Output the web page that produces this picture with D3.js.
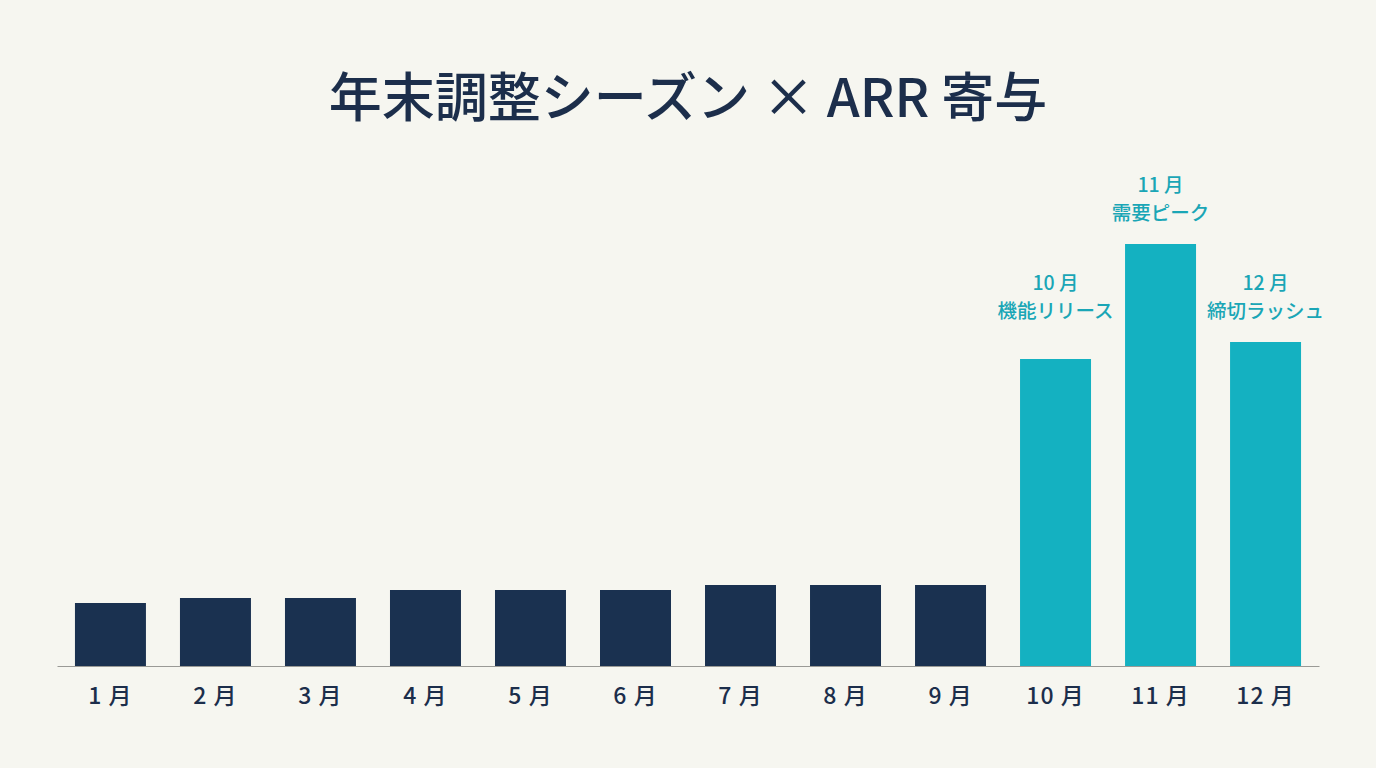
<!DOCTYPE html>
<html>
<head>
<meta charset="utf-8">
<script src="https://cdn.jsdelivr.net/npm/d3@7"></script>
<style>
  html, body { margin: 0; padding: 0; background: #f6f6f0; }
  svg { display: block; }
  text { font-family: "Noto Sans CJK JP", "Noto Sans", sans-serif; }
</style>
</head>
<body>
<script>
// monthly ARR contribution (relative units)
const months = ["1 月", "2 月", "3 月", "4 月", "5 月", "6 月", "7 月", "8 月", "9 月", "10 月", "11 月", "12 月"];
const values = [6.3, 6.8, 6.8, 7.6, 7.6, 7.6, 8.1, 8.1, 8.1, 30.7, 42.2, 32.4];
const highlight = ["10 月", "11 月", "12 月"];
const notes = [
  { month: "10 月", lines: ["10 月", "機能リリース"], level: "side" },
  { month: "11 月", lines: ["11 月", "需要ピーク"], level: "peak" },
  { month: "12 月", lines: ["12 月", "締切ラッシュ"], level: "side" }
];

const width = 1376, height = 768;
const navy = "#1a3150", teal = "#14b1c1";

const svg = d3.select("body").append("svg")
    .attr("width", width)
    .attr("height", height)
    .attr("xmlns", "http://www.w3.org/2000/svg");

svg.append("rect").attr("width", width).attr("height", height).attr("fill", "#f6f6f0");

svg.append("text")
    .attr("x", 688)
    .attr("y", 117)
    .attr("text-anchor", "middle")
    .attr("font-size", 53)
    .attr("font-weight", 500)
    .attr("fill", "#1c2e4b")
    .text("年末調整シーズン × ARR 寄与");

const x = d3.scaleBand()
    .domain(months)
    .range([57, 1319])
    .paddingInner(0.324)
    .paddingOuter(0.171);

const y = d3.scaleLinear()
    .domain([0, 50])
    .range([666, 166]);

const data = months.map((m, i) => ({ month: m, value: values[i] }));

svg.append("g")
  .selectAll("rect")
  .data(data)
  .join("rect")
    .attr("x", d => x(d.month))
    .attr("y", d => y(d.value))
    .attr("width", x.bandwidth())
    .attr("height", d => y(0) - y(d.value))
    .attr("fill", d => highlight.includes(d.month) ? teal : navy);

// baseline + month labels
const axis = svg.append("g")
    .attr("transform", `translate(0,${y(0)})`)
    .call(d3.axisBottom(x).tickSize(0).tickPadding(21));
axis.select(".domain").attr("stroke", "#9a9a96").attr("stroke-width", 1.2);
axis.selectAll("text")
    .attr("font-size", 23)
    .attr("font-family", "Noto Sans CJK JP")
    .attr("font-weight", 500)
    .attr("letter-spacing", 1)
    .attr("fill", "#1c2e4b")
    .attr("dy", "0.72em");

// annotations above highlighted bars
const val = m => values[months.indexOf(m)];
const sideTop = d3.max(notes.filter(n => n.level === "side"), n => val(n.month));
const g = svg.append("g");
notes.forEach(n => {
  const top = n.level === "side" ? y(sideTop) : y(val(n.month));
  const t = g.append("text")
      .attr("text-anchor", "middle")
      .attr("font-size", 19.5)
      .attr("font-weight", 500)
      .attr("fill", "#1aa6b6");
  n.lines.forEach((line, i) => {
    t.append("tspan")
        .attr("x", x(n.month) + x.bandwidth() / 2)
        .attr("y", top - 24 - (n.lines.length - 1 - i) * 28)
        .text(line);
  });
});
</script>
</body>
</html>
